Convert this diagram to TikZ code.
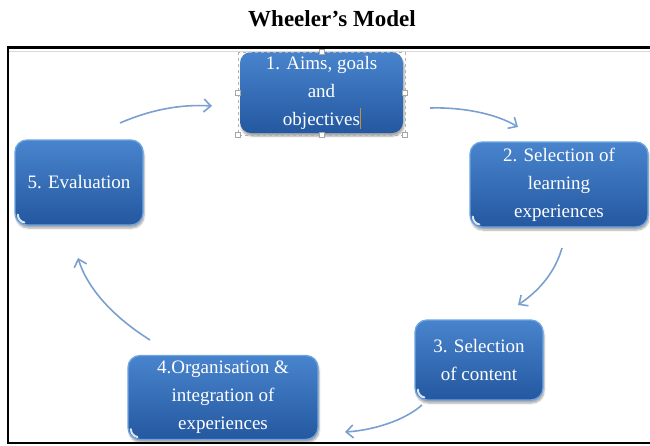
\documentclass[tikz,border=0pt]{standalone}
\usepackage{fontspec}
\setmainfont{Liberation Serif}
\usetikzlibrary{arrows.meta,shadows.blur}
\definecolor{boxtop}{RGB}{72,132,205}
\definecolor{boxbot}{RGB}{36,88,160}
\definecolor{boxedge}{RGB}{110,165,225}
\definecolor{arrowc}{RGB}{122,160,208}
\definecolor{cursorc}{RGB}{200,140,60}
\tikzset{
  stepbox/.style={rectangle, rounded corners=12pt, top color=boxtop, bottom color=boxbot,
    draw=boxedge, line width=1.3pt, text=white, align=center, inner sep=0pt,
    font=\fontsize{19}{28}\selectfont,
    blur shadow={shadow blur steps=6, shadow xshift=1pt, shadow yshift=-3pt, shadow opacity=35}},
  flow/.style={draw=arrowc, line width=1.6pt, -{Straight Barb[length=7pt,width=13pt,line width=1.6pt]}},
  handle/.style={draw=gray!70, fill=white, line width=0.5pt, minimum size=5pt, inner sep=0pt, rectangle},
  glint/.style={white, line width=2pt, opacity=0.85, line cap=round}
}
\begin{document}
\begin{tikzpicture}[x=1pt,y=-1pt]
\useasboundingbox (0,0) rectangle (650,445);
% title
\node[font=\fontsize{23}{27}\selectfont\bfseries] (title) at (332,19) {Wheeler’s Model};
% frame
\draw[gray!30, line width=1pt] (9,51) -- (650,51);
\draw[black, line width=2.6pt] (650,47.5) -- (8,47.5) -- (8,443) -- (650,443);
% boxes
\node[stepbox, draw=none, rounded corners=11pt, minimum width=163pt, minimum height=81pt] (b1) at (321.5,92.5)
  {1. Aims, goals\\and\\objectives};
\node[stepbox, minimum width=178pt, minimum height=85pt] (b2) at (559,184.5)
  {2. Selection of\\learning\\experiences};
\node[stepbox, minimum width=128pt, minimum height=80pt] (b3) at (479,360)
  {3. Selection\\of content};
\node[stepbox, minimum width=190pt, minimum height=84pt] (b4) at (223,397.5)
  {4.Organisation \&\\integration of\\experiences};
\node[stepbox, minimum width=128pt, minimum height=85pt] (b5) at (79,182.5)
  {5. Evaluation};
% corner glints
\foreach \b in {b2,b3,b4,b5}{
  \draw[glint] ([shift={(3.5,-11)}]\b.south west) arc[start angle=180,end angle=100,radius=8];
}
% selection frame around box 1
\coordinate (s1) at (238,52);
\coordinate (s2) at (405,135);
\draw[gray!60, dashed, line width=0.4pt] (s1) rectangle (s2);
\node[handle] (h1) at (238,135) {};
\node[handle] (h2) at (405,135) {};
\node[handle] (h3) at (321.5,135) {};
\node[handle] (h4) at (238,93) {};
\node[handle] (h5) at (405,93) {};
\node[handle] (h6) at (321.5,52) {};
% text cursor
\coordinate (c1) at (360.5,108);
\coordinate (c2) at (360.5,129);
\draw[cursorc, line width=0.9pt] (c1) -- (c2);
% arrows
\coordinate (a1) at (120,123); \coordinate (a2) at (212,106);
\coordinate (b1s) at (430,108); \coordinate (b2e) at (518,127);
\coordinate (c1s) at (562,248); \coordinate (c2e) at (518,305);
\coordinate (d1) at (422,405); \coordinate (d2) at (345,432);
\coordinate (e1) at (150,340); \coordinate (e2) at (78,258);
\draw[flow] (a1) .. controls (150,110) and (180,104) .. (a2);
\draw[flow] (b1s) .. controls (460,107) and (495,113) .. (b2e);
\draw[flow] (c1s) .. controls (555,272) and (540,290) .. (c2e);
\draw[flow] (d1) .. controls (405,420) and (375,430) .. (d2);
\draw[flow] (e1) .. controls (115,318) and (88,290) .. (e2);
\end{tikzpicture}
\end{document}
